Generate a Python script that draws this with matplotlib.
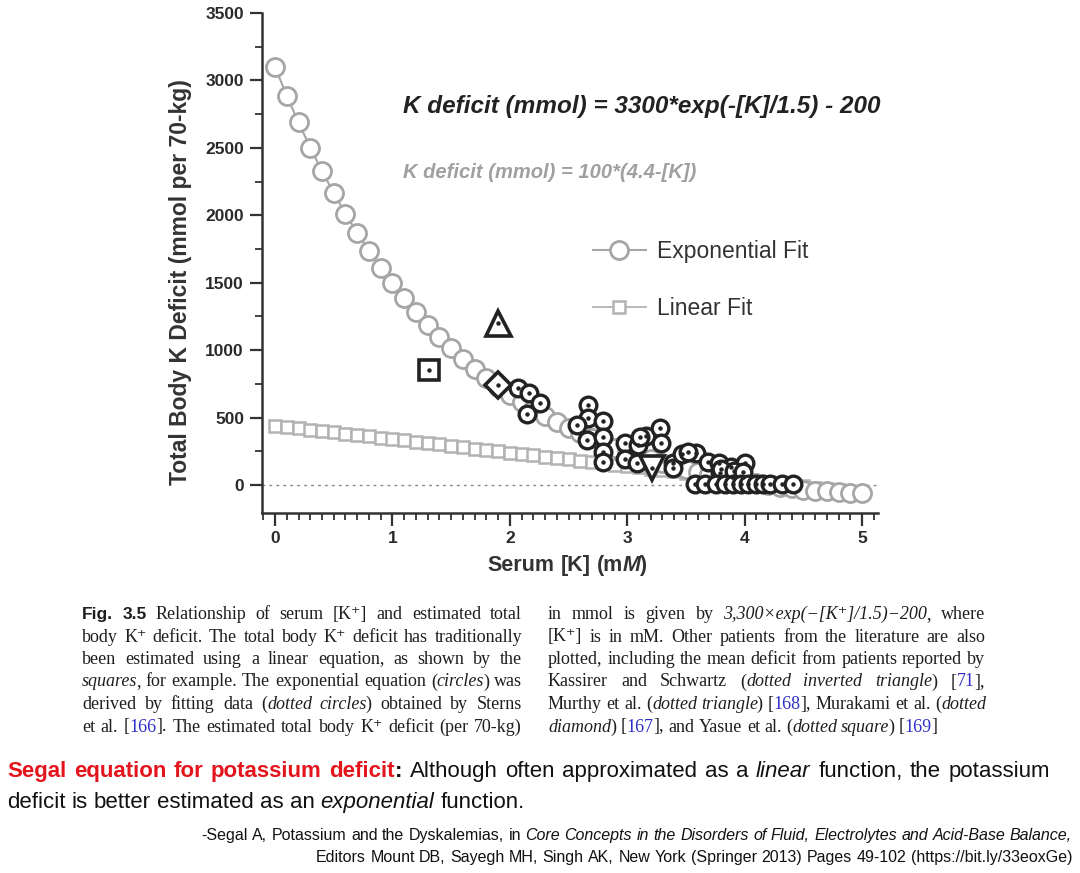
import numpy as np
import matplotlib
matplotlib.use('Agg')
import matplotlib.pyplot as plt
from matplotlib.ticker import MultipleLocator

# serum K grid used by both fits (mM)
k_fit = [round(0.1 * i, 1) for i in range(51)]
# exponential fit
exp_fit = [3100, 2887, 2688, 2502, 2328, 2165, 2012, 1869, 1736, 1611,
           1494, 1385, 1283, 1187, 1098, 1014, 936, 862, 794, 730,
           670, 614, 561, 512, 466, 423, 383, 345, 310, 277,
           247, 218, 191, 166, 142, 120, 99, 80, 62, 45,
           29, 15, 1, -12, -24, -36, -42, -48, -52, -56, -60]
# linear fit
lin_fit = [440, 430, 420, 410, 400, 390, 380, 370, 360, 350,
           340, 330, 320, 310, 300, 290, 280, 270, 260, 250,
           240, 230, 220, 210, 200, 190, 180, 170, 160, 150,
           140, 130, 120, 110, 100, 90, 80, 70, 60, 50,
           40, 30, 20, 10, 0, -10, -20, -30, -40, -50, -60]

# Sterns et al. patients (dotted circles)
sterns_k = [2.07, 2.16, 2.26, 2.15, 2.67, 2.67, 2.655, 2.57, 2.79, 2.79,
            2.79, 2.79, 2.98, 2.98, 3.09, 3.16, 3.28, 3.29, 3.08, 3.39,
            3.39, 3.47, 3.59, 3.69, 3.78, 3.88, 4.00, 3.99, 3.79, 3.89,
            3.80, 3.91, 3.99, 3.11, 3.52,
            3.58, 3.66, 3.76, 3.83, 3.90, 3.97, 4.03, 4.10, 4.16, 4.22,
            4.32, 4.41]
sterns_def = [717, 680, 611, 527, 590, 495, 334, 445, 477, 358,
              247, 173, 309, 190, 297, 363, 420, 309, 161, 161,
              124, 230, 240, 173, 161, 136, 161, 62, 87, 62,
              118, 100, 96, 356, 245,
              7, 7, 7, 7, 7, 7, 7, 7, 7, 7,
              7, 7]
# other literature means
kassirer = (3.21, 124)
murthy = (1.90, 1202)
murakami = (1.90, 742)
yasue = (1.31, 853)

W, H = 1080, 873
fig = plt.figure(figsize=(W / 100, H / 100), dpi=100)
ax = fig.add_axes([262 / W, 1 - 513 / H, (878 - 262) / W, (513 - 13) / H])

grey_c = '#a6a6a6'
grey_s = '#b3b3b3'
dark = '#222222'

ax.axhline(0, color='#888888', lw=1, ls=(0, (2, 3)), zorder=1)
h_lin, = ax.plot(k_fit, lin_fit, color=grey_s, lw=1.3, marker='s', ms=8.5,
                 mfc='white', mec=grey_s, mew=1.8, zorder=2, label='Linear Fit')
h_exp, = ax.plot(k_fit, exp_fit, color=grey_c, lw=1.5, marker='o', ms=13,
                 mfc='white', mec=grey_c, mew=2, zorder=3, label='Exponential Fit')

pt = dict(ls='none', mfc='white', mec=dark, zorder=5)
ax.plot(sterns_k, sterns_def, marker='o', ms=12, mew=2.4, **pt)
ax.plot(sterns_k, sterns_def, ls='none', marker='o', ms=2.2, color=dark, zorder=6)
ax.plot(*kassirer, marker='v', ms=17, mew=2.6, **pt)
ax.plot(*murthy, marker='^', ms=18, mew=2.6, **pt)
ax.plot(*murakami, marker='D', ms=13, mew=2.6, **pt)
ax.plot(*yasue, marker='s', ms=14, mew=2.6, **pt)
for p in (kassirer, murthy, murakami, yasue):
    ax.plot(*p, ls='none', marker='o', ms=2.2, color=dark, zorder=6)

ax.set_xlim(-0.111, 5.136)
ax.set_ylim(-208, 3500)
for s in ('top', 'right'):
    ax.spines[s].set_visible(False)
for s in ('left', 'bottom'):
    ax.spines[s].set_color('#333333')
    ax.spines[s].set_linewidth(1.8)
ax.xaxis.set_major_locator(MultipleLocator(1))
ax.xaxis.set_minor_locator(MultipleLocator(0.1))
ax.yaxis.set_major_locator(MultipleLocator(500))
ax.yaxis.set_minor_locator(MultipleLocator(250))
ax.tick_params(which='major', length=9, width=1.6, color='#333333', pad=4)
ax.tick_params(which='minor', length=5, width=1.3, color='#333333')
for lbl in ax.get_xticklabels() + ax.get_yticklabels():
    lbl.set_family(['Liberation Sans', 'DejaVu Sans'])
    lbl.set_fontweight('bold')
    lbl.set_fontsize(12.5)
    lbl.set_color('#2a2a2a')

leg = ax.legend(handles=[h_exp, h_lin], loc='upper left',
                bbox_to_anchor=((593 - 262) / 616, (513 - 240) / 500),
                frameon=False, handlelength=2.3, handletextpad=0.5,
                labelspacing=1.5, borderpad=0, borderaxespad=0,
                prop={'family': ['Liberation Sans', 'DejaVu Sans'], 'size': 16.5})
for t in leg.get_texts():
    t.set_color('#333333')

sans = ['Liberation Sans', 'DejaVu Sans']
fig.text(403 / W, 1 - 107 / H, 'K deficit (mmol) = 3300*exp(-[K]/1.5) - 200',
         family=sans, fontsize=17.5, fontweight='bold', fontstyle='italic',
         color=dark, va='center', ha='left')
fig.text(403 / W, 1 - 172 / H, 'K deficit (mmol) = 100*(4.4-[K])',
         family=sans, fontsize=14.5, fontweight='bold', fontstyle='italic',
         color='#a0a0a0', va='center', ha='left')
fig.text(181 / W, 1 - 282 / H, 'Total Body K Deficit (mmol per 70-kg)',
         family=sans, fontsize=16.5, fontweight='bold', color='#333333',
         rotation=90, va='center', ha='center')

renderer = fig.canvas.get_renderer()


def parse(s):
    runs, cur, st = [], '', 'n'
    for ch in s:
        if ch in '*{}#':
            if cur:
                runs.append((cur, st))
            cur = ''
            if ch == '*':
                st = 'i' if st != 'i' else 'n'
            elif ch == '{':
                st = 'c'
            elif ch == '}':
                st = 'n'
            else:
                st = 'b' if st != 'b' else 'n'
        else:
            cur += ch
    if cur:
        runs.append((cur, st))
    return runs


def put_runs(runs, x, y, styles, width=None, align='left'):
    words, cur = [], []
    for txt, st in runs:
        parts = txt.split(' ')
        for i, p in enumerate(parts):
            if i > 0 and cur:
                words.append(cur)
                cur = []
            if p:
                cur.append((p, st))
    if cur:
        words.append(cur)
    rows, widths = [], []
    for w in words:
        row, tot = [], 0
        for p, st in w:
            t = fig.text(0, 1 - y / H, p, va='baseline', ha='left', **styles[st])
            wd = t.get_window_extent(renderer).width
            if st == 'i' and len(w) > 1:
                wd -= 0.08 * t.get_fontsize()
            row.append((t, wd))
            tot += wd
        rows.append(row)
        widths.append(tot)
    a = fig.text(0, 0, 'a a', **styles['n'])
    b = fig.text(0, 0, 'aa', **styles['n'])
    sp = a.get_window_extent(renderer).width - b.get_window_extent(renderer).width
    a.remove()
    b.remove()
    gap = sp
    if width is not None and len(words) > 1:
        gap = (width - sum(widths)) / (len(words) - 1)
    total = sum(widths) + gap * (len(words) - 1)
    if align == 'right':
        x = x - total
    elif align == 'center':
        x = x - total / 2
    cx = x
    for row in rows:
        for t, wd in row:
            t.set_x(cx / W)
            cx += wd
        cx += gap


# x axis label
xl_st = {'n': dict(family=sans, fontsize=15.5, fontweight='bold', color='#333333'),
         'i': dict(family=sans, fontsize=15.5, fontweight='bold', fontstyle='italic',
                   color='#333333')}
put_runs(parse('Serum [K] (m*M*)'), 567, 571, xl_st, align='center')

# caption
serif = ['Liberation Serif', 'DejaVu Serif']
cap_st = {'n': dict(family=serif, fontsize=13, color='#1e1e1e'),
          'i': dict(family=serif, fontsize=13, fontstyle='italic', color='#1e1e1e'),
          'b': dict(family=sans, fontsize=12.5, fontweight='bold', color='#1e1e1e'),
          'c': dict(family=serif, fontsize=13, color='#2f2fc8')}
left_lines = [
    '#Fig. 3.5# Relationship of serum [K⁺] and estimated total',
    'body K⁺ deficit. The total body K⁺ deficit has traditionally',
    'been estimated using a linear equation, as shown by the',
    '*squares*, for example. The exponential equation (*circles*) was',
    'derived by fitting data (*dotted circles*) obtained by Sterns',
    'et al. [{166}]. The estimated total body K⁺ deficit (per 70-kg)',
]
right_lines = [
    'in mmol is given by *3,300×exp(−[K⁺]/1.5)−200*, where',
    '[K⁺] is in mM. Other patients from the literature are also',
    'plotted, including the mean deficit from patients reported by',
    'Kassirer and Schwartz (*dotted inverted triangle*) [{71}],',
    'Murthy et al. (*dotted triangle*) [{168}], Murakami et al. (*dotted*',
    '*diamond*) [{167}], and Yasue et al. (*dotted square*) [{169}]',
]
for i, s in enumerate(left_lines):
    put_runs(parse(s), 82, 619 + 22.5 * i, cap_st, width=440)
for i, s in enumerate(right_lines):
    wd = 437 if i < len(right_lines) - 1 else None
    put_runs(parse(s), 548, 619 + 22.5 * i, cap_st, width=wd)

# bottom note
narrow = ['Liberation Sans Narrow', 'Liberation Sans', 'DejaVu Sans']
bot_st = {'r': dict(family=narrow, fontsize=16, fontweight='bold', color='#e3141b'),
          'k': dict(family=narrow, fontsize=16, fontweight='bold', color='#111111'),
          'n': dict(family=narrow, fontsize=16, color='#111111'),
          'i': dict(family=narrow, fontsize=16, fontstyle='italic', color='#111111')}
put_runs([('Segal equation for potassium deficit', 'r'), (':', 'k'),
          ('  Although often approximated as a ', 'n'), ('linear', 'i'),
          (' function, the potassium', 'n')], 7, 777, bot_st, width=1043)
put_runs([('deficit is better estimated as an ', 'n'), ('exponential', 'i'),
          (' function.', 'n')], 7, 808, bot_st)

cite_st = {'n': dict(family=narrow, fontsize=11.5, color='#111111'),
           'i': dict(family=narrow, fontsize=11.5, fontstyle='italic', color='#111111')}
put_runs([('-Segal A, Potassium and the Dyskalemias, in ', 'n'),
          ('Core Concepts in the Disorders of Fluid, Electrolytes and Acid-Base Balance,', 'i')],
         1072, 840, cite_st, align='right')
put_runs([('Editors Mount DB, Sayegh MH, Singh AK, New York (Springer 2013) Pages 49-102  '
           '(https://bit.ly/33eoxGe)', 'n')], 1072, 862, cite_st, align='right')

fig.savefig('out.png', dpi=100, facecolor='white')
